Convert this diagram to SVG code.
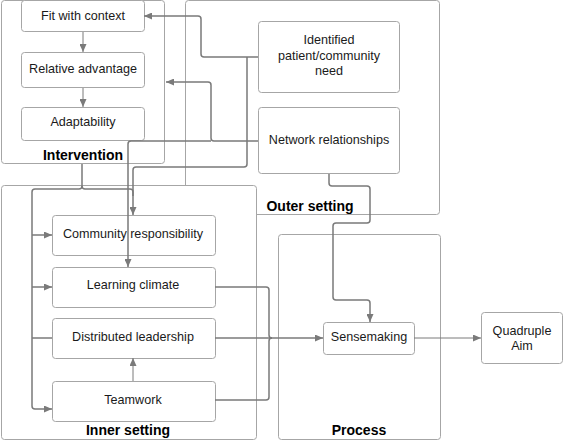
<svg xmlns="http://www.w3.org/2000/svg" width="564" height="441" viewBox="0 0 564 441">
<style>
.cont{fill:#fff;stroke:#a6a6a6;stroke-width:1}
.node{fill:#fff;stroke:#a6a6a6;stroke-width:1}
.t{font-family:"Liberation Sans",Arial,sans-serif;font-size:12.6px;fill:#1a1a1a;text-anchor:middle}
.lbl{font-family:"Liberation Sans",Arial,sans-serif;font-size:14px;font-weight:bold;fill:#000;text-anchor:middle}
.c{fill:none;stroke:#7a7a7a;stroke-width:1.5}
.c1{fill:none;stroke:#7a7a7a;stroke-width:1}
</style>
<defs>
<marker id="ah" viewBox="0 0 8 7" refX="8" refY="3.5" markerWidth="8" markerHeight="7" markerUnits="userSpaceOnUse" orient="auto">
<path d="M0,0 L8,3.5 L0,7 z" fill="#7a7a7a"/>
</marker>
</defs>
<g id="outer-setting">
<rect class="cont" x="185.5" y="0.5" width="254" height="214" rx="3"/>
<text class="lbl" x="310" y="211">Outer setting</text>
</g>
<g id="intervention">
<rect class="cont" x="1.5" y="0.5" width="163" height="163" rx="3"/>
<text class="lbl" x="83" y="160">Intervention</text>
</g>
<g id="inner-setting">
<rect class="cont" x="1.5" y="185.5" width="255" height="254" rx="3"/>
<text class="lbl" x="128" y="435">Inner setting</text>
</g>
<g id="process">
<rect class="cont" x="278.5" y="234.5" width="162" height="205" rx="3"/>
<text class="lbl" x="359" y="435">Process</text>
</g>
<g id="fit-with-context">
<rect class="node" x="21.5" y="0.5" width="123" height="31" rx="3"/>
<text class="t" x="83" y="20">Fit with context</text>
</g>
<g id="relative-advantage">
<rect class="node" x="21.5" y="52.5" width="123" height="35" rx="3"/>
<text class="t" x="83" y="73">Relative advantage</text>
</g>
<g id="adaptability">
<rect class="node" x="21.5" y="107.5" width="123" height="33" rx="3"/>
<text class="t" x="83" y="126">Adaptability</text>
</g>
<g id="identified-need">
<rect class="node" x="258.5" y="21.5" width="141" height="71" rx="3"/>
<text class="t" x="329" y="44">Identified</text>
<text class="t" x="329" y="60">patient/community</text>
<text class="t" x="329" y="75">need</text>
</g>
<g id="network-relationships">
<rect class="node" x="258.5" y="107.5" width="141" height="66" rx="3"/>
<text class="t" x="329" y="144">Network relationships</text>
</g>
<g id="community-responsibility">
<rect class="node" x="52.5" y="215.5" width="163" height="40" rx="3"/>
<text class="t" x="133" y="238">Community responsibility</text>
</g>
<g id="learning-climate">
<rect class="node" x="52.5" y="267.5" width="163" height="40" rx="3"/>
<text class="t" x="133" y="289">Learning climate</text>
</g>
<g id="distributed-leadership">
<rect class="node" x="52.5" y="318.5" width="163" height="40" rx="3"/>
<text class="t" x="133" y="341">Distributed leadership</text>
</g>
<g id="teamwork">
<rect class="node" x="52.5" y="381.5" width="163" height="40" rx="3"/>
<text class="t" x="133" y="404">Teamwork</text>
</g>
<g id="sensemaking">
<rect class="node" x="323.5" y="322.5" width="91" height="32" rx="3"/>
<text class="t" x="369" y="341">Sensemaking</text>
</g>
<g id="quadruple-aim">
<rect class="node" x="481.5" y="312.5" width="81" height="51" rx="3"/>
<text class="t" x="522" y="335">Quadruple</text>
<text class="t" x="522" y="350">Aim</text>
</g>
<g id="connectors">
<path class="c1" d="M83,32 V52" marker-end="url(#ah)"/>
<path class="c1" d="M83,88 V107" marker-end="url(#ah)"/>
<path class="c" d="M258,57 H204 Q201,57 201,54 V19 Q201,16 198,16 H144" marker-end="url(#ah)"/>
<path class="c" d="M247,57 V164 Q247,167 244,167 H136 Q133,167 133,170 V215" marker-end="url(#ah)"/>
<path class="c" d="M258,141 H214 Q211,141 211,138 V85 Q211,82 208,82 H166" marker-end="url(#ah)"/>
<path class="c" d="M211,141 H131 Q128,141 128,144 V267" marker-end="url(#ah)"/>
<path class="c" d="M82,164 V186 Q82,189 79,189 H35 Q32,189 32,192 V406 Q32,409 35,409 H52" marker-end="url(#ah)"/>
<path class="c" d="M82,186 Q82,189 85,189 H130 Q133,189 133,192 V196"/>
<path class="c" d="M32,235 H52" marker-end="url(#ah)"/>
<path class="c" d="M32,287 H52" marker-end="url(#ah)"/>
<path class="c" d="M32,338 H52"/>
<path class="c1" d="M133,381 V358" marker-end="url(#ah)"/>
<path class="c" d="M329,174 V183 Q329,186 332,186 H367 Q370,186 370,189 V220 Q370,223 367,223 H336 Q333,223 333,226 V297 Q333,300 336,300 H367 Q370,300 370,303 V322" marker-end="url(#ah)"/>
<path class="c" d="M215,287 H266 Q269,287 269,290 V335 Q269,338 272,338"/>
<path class="c" d="M215,400 H266 Q269,400 269,397 V341 Q269,338 272,338"/>
<path class="c" d="M215,338 H323" marker-end="url(#ah)"/>
<path class="c1" d="M414,338 H481" marker-end="url(#ah)"/>
</g>
</svg>
